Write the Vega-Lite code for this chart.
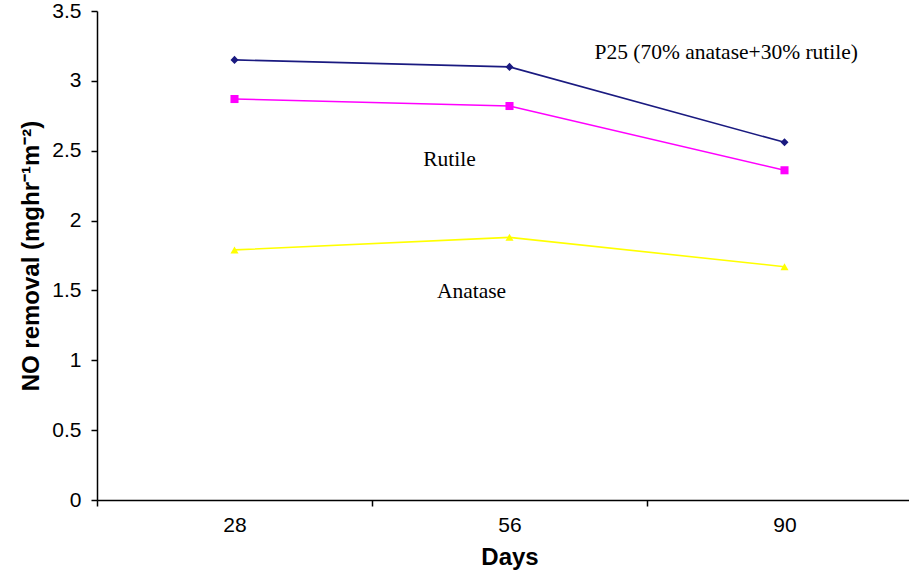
{
  "$schema": "https://vega.github.io/schema/vega-lite/v6.json",
  "width": 825,
  "height": 489,
  "autosize": "none",
  "padding": {"left": 97, "top": 11, "right": 0, "bottom": 73},
  "background": "white",
  "config": {
    "view": {"stroke": null},
    "axis": {"grid": false, "domainColor": "black", "tickColor": "black", "labelColor": "black", "titleColor": "black", "labelFont": "Liberation Sans", "titleFont": "Liberation Sans", "domainWidth": 1.5, "tickWidth": 1.5}
  },
  "datasets": {
    "series": [
      {"day": "28", "value": 3.15, "series": "P25"},
      {"day": "56", "value": 3.10, "series": "P25"},
      {"day": "90", "value": 2.56, "series": "P25"},
      {"day": "28", "value": 2.87, "series": "Rutile"},
      {"day": "56", "value": 2.82, "series": "Rutile"},
      {"day": "90", "value": 2.36, "series": "Rutile"},
      {"day": "28", "value": 1.79, "series": "Anatase"},
      {"day": "56", "value": 1.88, "series": "Anatase"},
      {"day": "90", "value": 1.67, "series": "Anatase"}
    ],
    "labels": [
      {"day": "56", "value": 3.20, "label": "P25 (70% anatase+30% rutile)"},
      {"day": "56", "value": 2.43, "label": "Rutile"},
      {"day": "56", "value": 1.49, "label": "Anatase"}
    ]
  },
  "layer": [
    {
      "data": {"name": "series"},
      "mark": {"type": "line", "strokeWidth": 1.6, "point": false},
      "encoding": {
        "x": {"field": "day", "type": "ordinal", "bandPosition": 0.5, "sort": ["28", "56", "90"],
              "scale": {"type": "band", "paddingInner": 0, "paddingOuter": 0},
              "axis": {"title": "Days", "titleFontSize": 24, "titleFontWeight": "bold", "titlePadding": 10, "labelFontSize": 21, "labelAngle": 0, "labelPadding": 8, "tickBand": "extent", "tickSize": 6}},
        "y": {"field": "value", "type": "quantitative",
              "scale": {"domain": [0, 3.5], "nice": false, "zero": true},
              "axis": {"title": "NO removal (mghr⁻¹m⁻²)", "titleFontSize": 24, "titleFontWeight": "bold", "titlePadding": 8, "labelFontSize": 21, "values": [0, 0.5, 1, 1.5, 2, 2.5, 3, 3.5], "format": "~g", "tickSize": 6, "labelPadding": 10}},
        "color": {"field": "series", "type": "nominal", "scale": {"domain": ["P25", "Rutile", "Anatase"], "range": ["#1a1a80", "#ff00ff", "#ffff00"]}, "legend": null}
      }
    },
    {
      "data": {"name": "series"},
      "mark": {"type": "point", "filled": true, "opacity": 1},
      "encoding": {
        "x": {"field": "day", "type": "ordinal", "bandPosition": 0.5, "sort": ["28", "56", "90"]},
        "y": {"field": "value", "type": "quantitative"},
        "color": {"field": "series", "type": "nominal", "scale": {"domain": ["P25", "Rutile", "Anatase"], "range": ["#1a1a80", "#ff00ff", "#ffff00"]}, "legend": null},
        "shape": {"field": "series", "type": "nominal", "scale": {"domain": ["P25", "Rutile", "Anatase"], "range": ["diamond", "square", "triangle-up"]}, "legend": null},
        "size": {"value": 65}
      }
    },
    {
      "data": {"name": "labels"},
      "transform": [{"filter": "datum.label == 'P25 (70% anatase+30% rutile)'"}],
      "mark": {"type": "text", "font": "Liberation Serif", "fontSize": 21.5, "color": "black", "align": "left", "baseline": "middle", "dx": 85},
      "encoding": {
        "x": {"field": "day", "type": "ordinal", "bandPosition": 0.5},
        "y": {"field": "value", "type": "quantitative"},
        "text": {"field": "label"}
      }
    },
    {
      "data": {"name": "labels"},
      "transform": [{"filter": "datum.label == 'Rutile'"}],
      "mark": {"type": "text", "font": "Liberation Serif", "fontSize": 21.5, "color": "black", "align": "center", "baseline": "middle", "dx": -60},
      "encoding": {
        "x": {"field": "day", "type": "ordinal", "bandPosition": 0.5},
        "y": {"field": "value", "type": "quantitative"},
        "text": {"field": "label"}
      }
    },
    {
      "data": {"name": "labels"},
      "transform": [{"filter": "datum.label == 'Anatase'"}],
      "mark": {"type": "text", "font": "Liberation Serif", "fontSize": 21.5, "color": "black", "align": "center", "baseline": "middle", "dx": -38},
      "encoding": {
        "x": {"field": "day", "type": "ordinal", "bandPosition": 0.5},
        "y": {"field": "value", "type": "quantitative"},
        "text": {"field": "label"}
      }
    }
  ]
}
